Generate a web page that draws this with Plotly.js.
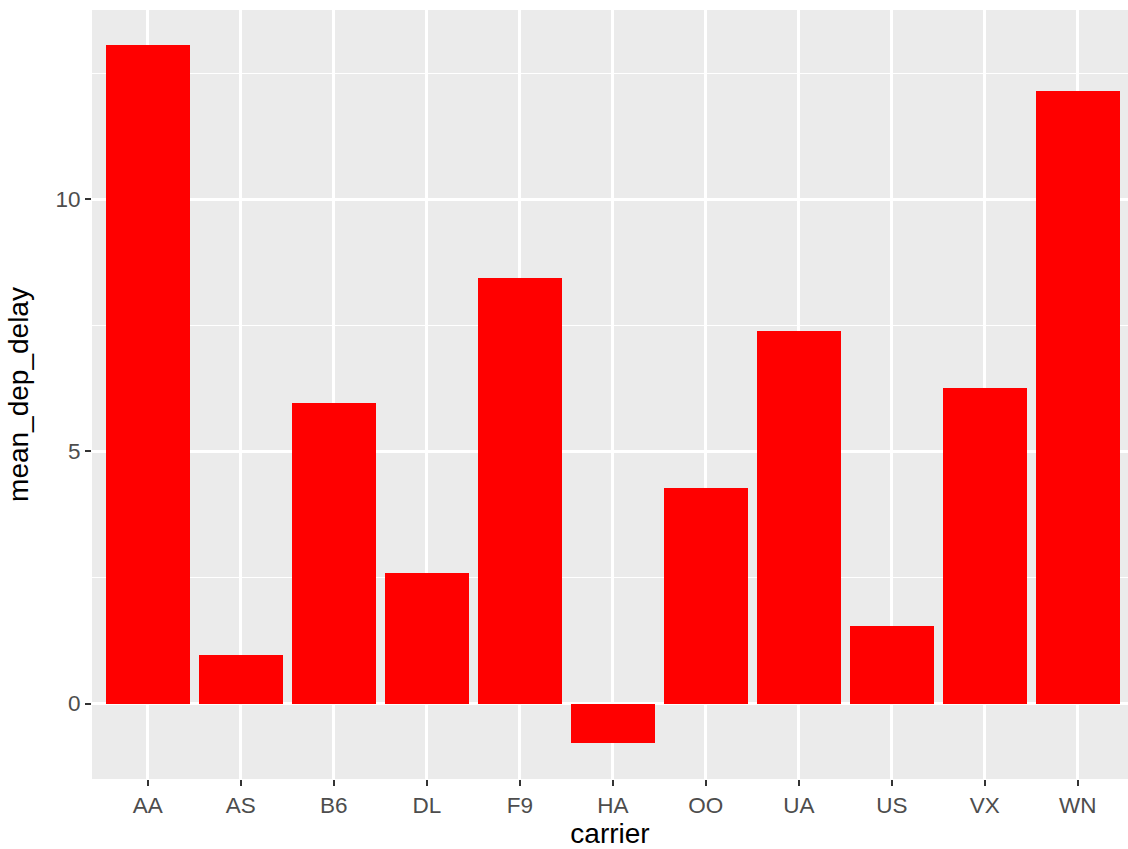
<!DOCTYPE html>
<html>
<head>
<meta charset="utf-8">
<script src="https://cdn.plot.ly/plotly-3.0.1.min.js"></script>
<style>
html,body{margin:0;padding:0;background:#fff;}
#chart{width:1128px;height:849px;}
</style>
</head>
<body>
<div id="chart"></div>
<script>
const carriers = ["AA","AS","B6","DL","F9","HA","OO","UA","US","VX","WN"];
const meanDepDelay = [13.07, 0.96, 5.97, 2.58, 8.45, -0.79, 4.27, 7.38, 1.53, 6.25, 12.15];
const yTickVals = [0, 5, 10];
const yTickText = ["0", "5", "10"];

const trace = {
  type: "bar",
  x: carriers,
  y: meanDepDelay,
  width: 0.9,
  marker: {color: "#FF0000", line: {width: 0}},
  hoverinfo: "x+y"
};

const tickFont = {family: "Liberation Sans, Arial, sans-serif", size: 22.5, color: "#4D4D4D"};
const titleFont = {family: "Liberation Sans, Arial, sans-serif", size: 28, color: "#000000"};

const layout = {
  width: 1128,
  height: 849,
  margin: {l: 92, r: 0, t: 10, b: 70, pad: 0},
  paper_bgcolor: "#FFFFFF",
  plot_bgcolor: "#EBEBEB",
  showlegend: false,
  bargap: 0,
  xaxis: {
    type: "category",
    range: [-0.6, 10.54],
    showgrid: true,
    gridcolor: "#FFFFFF",
    gridwidth: 2.7,
    zeroline: false,
    showline: false,
    ticks: "outside",
    ticklen: 6,
    tickwidth: 2,
    tickcolor: "#333333",
    tickfont: tickFont,
    title: {text: "carrier", font: titleFont, standoff: 6},
    automargin: false,
    fixedrange: true
  },
  yaxis: {
    range: [-1.496, 13.756],
    tickvals: yTickVals,
    ticktext: yTickText,
    showgrid: true,
    gridcolor: "#FFFFFF",
    gridwidth: 2.7,
    minor: {dtick: 2.5, tick0: 0, showgrid: true, gridcolor: "#FFFFFF", gridwidth: 1.3, ticks: ""},
    zeroline: false,
    showline: false,
    ticks: "outside",
    ticklen: 6,
    tickwidth: 2,
    tickcolor: "#333333",
    tickfont: tickFont,
    title: {text: "mean_dep_delay", font: titleFont, standoff: 18},
    automargin: false,
    fixedrange: true
  }
};

Plotly.newPlot("chart", [trace], layout, {displayModeBar: false, staticPlot: true});
</script>
</body>
</html>
